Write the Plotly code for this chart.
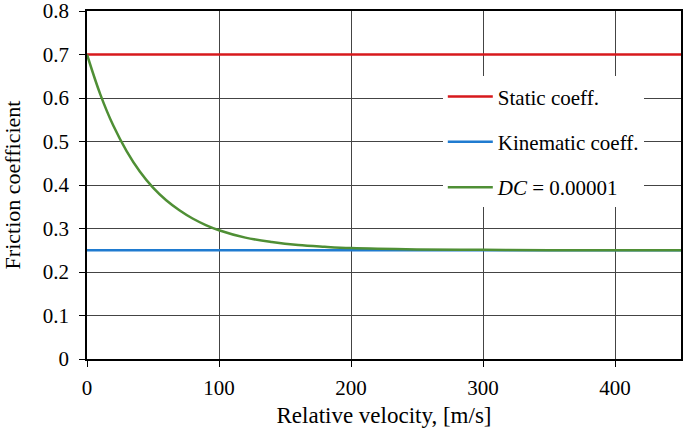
import plotly.graph_objects as go

# Data
velocity = [0, 10, 20, 30, 40, 50, 60, 70, 80, 90, 100, 120, 140, 160, 180, 200, 250, 300, 350, 400, 450]
dc_curve = [0.700, 0.609, 0.536, 0.478, 0.431, 0.394, 0.365, 0.342, 0.323, 0.308, 0.296,
            0.279, 0.269, 0.262, 0.258, 0.255, 0.252, 0.251, 0.250, 0.250, 0.250]
static_x = [0, 450]
static_y = [0.7, 0.7]
kinematic_x = [0, 450]
kinematic_y = [0.25, 0.25]
x_ticks = [0, 100, 200, 300, 400]
y_ticks = [0, 0.1, 0.2, 0.3, 0.4, 0.5, 0.6, 0.7, 0.8]
y_tick_text = ["0", "0.1", "0.2", "0.3", "0.4", "0.5", "0.6", "0.7", "0.8"]

font_family = "Liberation Serif, DejaVu Serif, serif"

fig = go.Figure()
fig.add_trace(go.Scatter(x=static_x, y=static_y, mode="lines", name="Static coeff.",
                         line=dict(color="#D7191C", width=2.5), legendgroup="a"))
fig.add_trace(go.Scatter(x=kinematic_x, y=kinematic_y, mode="lines", name="Kinematic coeff.",
                         line=dict(color="#1F7BD0", width=2.5), legendgroup="b"))
fig.add_trace(go.Scatter(x=velocity, y=dc_curve, mode="lines", name="<i>DC</i> = 0.00001",
                         line=dict(color="#4F8F35", width=2.5, shape="spline"), legendgroup="c"))

fig.update_layout(
    width=685, height=428,
    margin=dict(l=87, r=4, t=11, b=69),
    paper_bgcolor="white", plot_bgcolor="white",
    font=dict(family=font_family, size=21, color="black"),
    legend=dict(x=0.599, y=0.812, xanchor="left", yanchor="top",
                bgcolor="white", font=dict(family=font_family, size=21), tracegroupgap=15,
                itemwidth=45),
    showlegend=True,
)
fig.update_xaxes(range=[0, 450], tickvals=x_ticks, showgrid=True, gridcolor="#444444", gridwidth=1,
                 showline=True, linecolor="black", linewidth=1.5, mirror=True,
                 ticks="outside", ticklen=6, tickcolor="black", zeroline=False,
                 automargin=False, tickfont=dict(family=font_family, size=21),
                 ticklabelstandoff=3, ticklabeloverflow="allow",
                 title=dict(text="Relative velocity, [m/s]", standoff=9,
                            font=dict(family=font_family, size=23)))
fig.update_yaxes(range=[0, 0.8], tickvals=y_ticks, ticktext=y_tick_text, showgrid=True,
                 gridcolor="#444444", gridwidth=1,
                 showline=True, linecolor="black", linewidth=1.5, mirror=True,
                 ticks="outside", ticklen=6, tickcolor="black", zeroline=False,
                 ticklabelstandoff=6, ticklabeloverflow="allow",
                 automargin=False, tickfont=dict(family=font_family, size=21),
                 title=dict(text="Friction coefficient", standoff=16,
                            font=dict(family=font_family, size=22)))

fig.write_html("out.html", config={"displayModeBar": False},
               post_script="document.body.style.margin='0';document.body.style.padding='0';")
